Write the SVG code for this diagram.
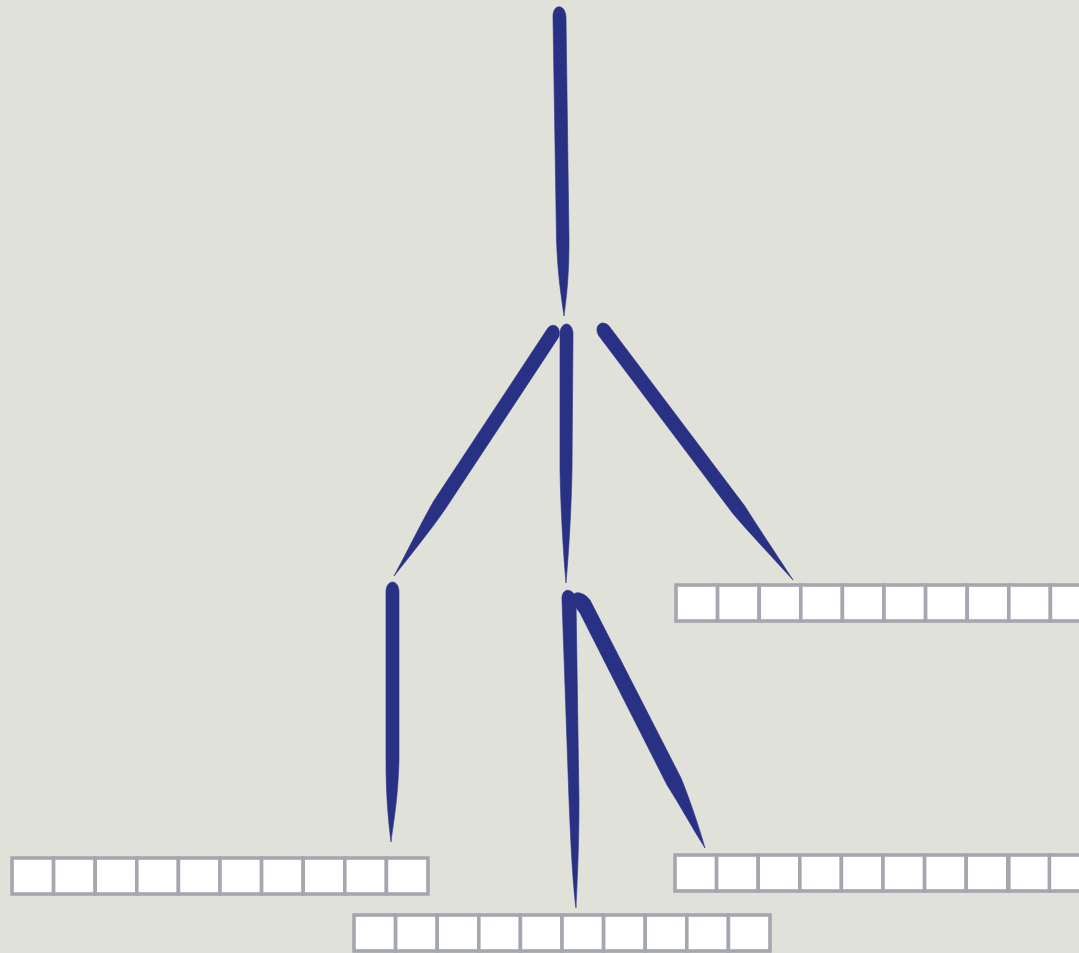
<svg xmlns="http://www.w3.org/2000/svg" xmlns:xlink="http://www.w3.org/1999/xlink" width="1079" height="953" viewBox="0 0 1079 953">
<style>
.bg{fill:#e0e2da}
.cell{fill:#ffffff;stroke:#a5a7b0;stroke-width:3.6}
.brush{fill:#283183;stroke:#283183;stroke-width:0.6;stroke-linejoin:round}
</style>
<defs>
<rect id="c" class="cell" x="0" y="0" width="41.6" height="36"/>
</defs>
<rect class="bg" x="0" y="0" width="1079" height="953"/>
<g id="connectors">
<path class="brush" d="M553,18 C552,3 566,3 566,18 L569,240 C569,280 566,300 564,316 C562,300 558,280 556.5,240 Z"/>
<path class="brush" d="M547.2,329.1 C551,322 562,325 558.8,336.9 L445.3,509 C430,531 410,556 394,576 C405,556 419,527 433.7,501 Z"/>
<path class="brush" d="M560,336 C559,320 574,320 573,336 L572,470 C571,520 568,560 566,583 C564,560 561,520 560,470 Z"/>
<path class="brush" d="M598.4,335.2 C593,324 604,319 609.6,326.8 L744.6,505.8 C760,530 780,560 793,580 C775,560 752,536 733.4,514.2 Z"/>
<path class="brush" d="M386,594 C385,578 400,578 399,594 L399,760 C398,800 393,825 391,842 C389,825 386,800 386,760 Z"/>
<path class="brush" d="M562,600 C561,586 575,588 576,600 L579,800 C579,850 577,885 576,908 C573,885 571,850 569,800 Z"/>
<path class="brush" d="M572,602 C570,590 582,590 590,600 L681,778 C690,800 700,830 705,848 C692,828 680,805 667,785 L580,613 Z"/>
</g>
<g id="array-left">
<use xlink:href="#c" x="12" y="858"/><use xlink:href="#c" x="53.6" y="858"/><use xlink:href="#c" x="95.2" y="858"/><use xlink:href="#c" x="136.8" y="858"/><use xlink:href="#c" x="178.4" y="858"/><use xlink:href="#c" x="220" y="858"/><use xlink:href="#c" x="261.6" y="858"/><use xlink:href="#c" x="303.2" y="858"/><use xlink:href="#c" x="344.8" y="858"/><use xlink:href="#c" x="386.4" y="858"/>
</g>
<g id="array-middle">
<use xlink:href="#c" x="354" y="915"/><use xlink:href="#c" x="395.6" y="915"/><use xlink:href="#c" x="437.2" y="915"/><use xlink:href="#c" x="478.8" y="915"/><use xlink:href="#c" x="520.4" y="915"/><use xlink:href="#c" x="562" y="915"/><use xlink:href="#c" x="603.6" y="915"/><use xlink:href="#c" x="645.2" y="915"/><use xlink:href="#c" x="686.8" y="915"/><use xlink:href="#c" x="728.4" y="915"/>
</g>
<g id="array-right-top">
<use xlink:href="#c" x="676" y="585"/><use xlink:href="#c" x="717.6" y="585"/><use xlink:href="#c" x="759.2" y="585"/><use xlink:href="#c" x="800.8" y="585"/><use xlink:href="#c" x="842.4" y="585"/><use xlink:href="#c" x="884" y="585"/><use xlink:href="#c" x="925.6" y="585"/><use xlink:href="#c" x="967.2" y="585"/><use xlink:href="#c" x="1008.8" y="585"/><use xlink:href="#c" x="1050.4" y="585"/>
</g>
<g id="array-right-bottom">
<use xlink:href="#c" x="675" y="855"/><use xlink:href="#c" x="716.6" y="855"/><use xlink:href="#c" x="758.2" y="855"/><use xlink:href="#c" x="799.8" y="855"/><use xlink:href="#c" x="841.4" y="855"/><use xlink:href="#c" x="883" y="855"/><use xlink:href="#c" x="924.6" y="855"/><use xlink:href="#c" x="966.2" y="855"/><use xlink:href="#c" x="1008.8" y="855"/><use xlink:href="#c" x="1049.4" y="855"/>
</g>
</svg>
